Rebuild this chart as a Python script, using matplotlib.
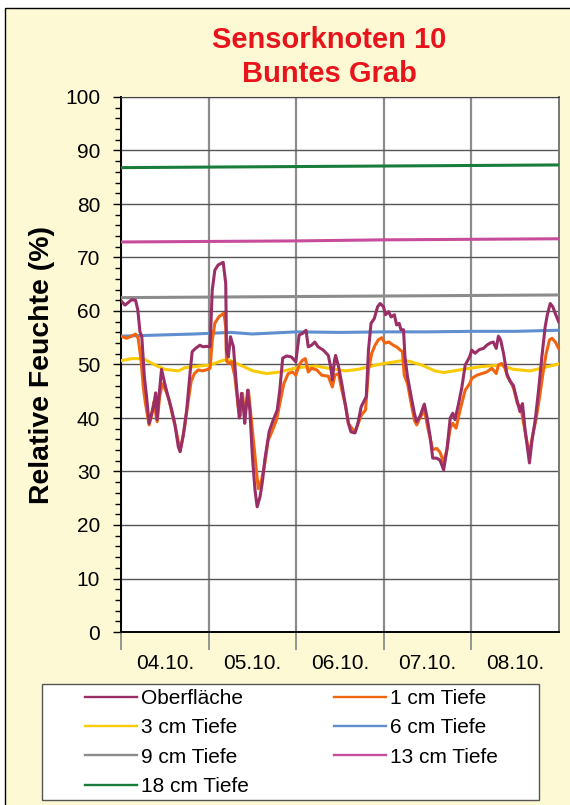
import matplotlib
matplotlib.use("Agg")
import matplotlib.pyplot as plt
import matplotlib.patches as mpatches
from matplotlib.ticker import FixedLocator, NullFormatter, FixedFormatter

plt.rcParams['font.family'] = ['Liberation Sans', 'DejaVu Sans']

# time axis in hours since 04.10. 00:00
day_labels = ["04.10.", "05.10.", "06.10.", "07.10.", "08.10."]

surface_h = [0, 1.1, 2, 2.9, 4, 4.6, 5.2, 5.7, 6.4, 7,
             7.7, 8.2, 8.9, 9.5, 9.9, 10.4, 11.1, 12, 12.9, 13.9,
             14.8, 15.7, 16.2, 17, 18, 18.9, 19.5, 20.4, 21.6, 22.5,
             23.4, 24.4, 25, 25.7, 26.6, 28, 28.7, 28.9, 29.4, 30,
             30.8, 31.5, 32.4, 33, 33.5, 33.9, 34.7, 35.3, 36, 36.7,
             37.3, 38.1, 38.8, 39.4, 40.6, 41.7, 42.8, 43.5, 44.3, 45.4,
             46.7, 47.9, 48.8, 49.7, 50.7, 51.3, 52.2, 53.1, 54, 55.4,
             56.8, 57.5, 57.9, 58.5, 58.8, 59.6, 60.5, 61.4, 62.3, 63,
             64.1, 64.9, 65.8, 66.7, 67.2, 67.8, 68.5, 69.4, 70.3, 71,
             71.9, 72.5, 73.3, 74, 74.9, 75.5, 76.2, 76.7, 77.4, 77.8,
             78.5, 79.5, 80.4, 81, 81.9, 83.1, 83.8, 84.7, 85.4, 86.5,
             87.4, 88.4, 89.3, 90.2, 90.9, 91.5, 92.5, 93.4, 94.3, 95.5,
             96.1, 97, 98.2, 99.3, 100.2, 101.1, 102, 102.8, 103.4, 104,
             104.8, 105.7, 106.6, 107.5, 108.6, 109.3, 110, 110.7, 111.4, 111.9,
             112.6, 113.5, 114.4, 115.3, 116.2, 116.8, 117.6, 118.3, 119, 119.9]
surface_v = [61.9, 61.1, 61.6, 62.1, 62.0, 60.2, 56.1, 55.2, 47.7, 44.0,
             39.0, 40.3, 42.1, 44.7, 39.7, 44.0, 49.1, 46.4, 44.0, 41.5,
             38.7, 34.6, 33.7, 36.5, 41.5, 48.3, 52.4, 53.0, 53.6, 53.3,
             53.4, 53.3, 63.9, 67.6, 68.6, 69.1, 65.1, 52.7, 51.4, 55.2,
             53.3, 47.1, 40.0, 44.6, 42.1, 39.0, 45.2, 41.5, 32.8, 26.6,
             23.4, 25.3, 28.4, 32.2, 37.5, 39.6, 41.5, 45.2, 51.2, 51.6,
             51.4, 50.5, 55.5, 55.8, 56.4, 53.3, 53.6, 54.2, 53.3, 52.7,
             51.7, 49.3, 47.1, 50.8, 51.7, 49.6, 46.4, 42.7, 39.0, 37.4,
             37.2, 39.0, 42.1, 43.3, 44.0, 52.7, 57.7, 58.6, 60.8, 61.4,
             60.8, 59.3, 59.9, 58.9, 59.3, 57.4, 57.7, 56.5, 56.5, 51.4,
             47.7, 44.0, 40.8, 39.3, 40.3, 42.6, 40.3, 36.5, 32.5, 32.5,
             32.1, 30.3, 34.1, 40.0, 40.9, 39.7, 42.7, 45.8, 49.9, 51.4,
             52.7, 52.1, 52.8, 53.0, 53.6, 54.0, 54.2, 53.0, 55.3, 54.6,
             52.1, 48.3, 46.8, 46.1, 43.0, 41.2, 42.7, 37.8, 34.1, 31.6,
             35.8, 39.7, 45.2, 51.4, 57.0, 59.3, 61.4, 60.8, 59.5, 58.0]

cm1_h = [0, 1.5, 2.9, 4, 4.7, 5.5, 6.1, 6.7, 7.7, 8.3,
         9, 9.9, 10.6, 11.3, 12.2, 13.1, 14, 14.9, 15.9, 16.4,
         17.3, 18.2, 19.2, 20.1, 21.2, 22.3, 23.4, 24.4, 25, 25.7,
         26.8, 28.2, 28.7, 28.9, 29.4, 30.3, 31.2, 32.1, 32.6, 33.3,
         33.9, 34.9, 35.8, 36.7, 37.6, 38.5, 39.4, 40.3, 41.5, 42.6,
         43.5, 44.6, 45.8, 47, 47.9, 48.8, 49.7, 50.5, 51.3, 52.2,
         53.6, 55, 56.8, 57.9, 58.6, 59.6, 60.5, 61.6, 62.3, 63,
         64.1, 65, 65.9, 67, 67.8, 68.7, 69.6, 70.5, 71.4, 72.3,
         73.4, 74.6, 75.5, 76.5, 77.1, 77.6, 78.5, 79.5, 80.4, 81,
         81.9, 83.1, 84.2, 85.4, 86.5, 87.4, 88.4, 89.3, 90.2, 90.9,
         91.8, 92.9, 94.3, 95.5, 96.1, 97.5, 98.9, 100.2, 101.6, 102.8,
         103.4, 104.3, 105.2, 105.9, 106.8, 107.7, 108.6, 109.5, 110.3, 111.2,
         111.9, 112.8, 113.7, 114.7, 115.6, 116.5, 117.4, 118.1, 119, 119.9]
cm1_v = [55.3, 54.9, 55.3, 55.7, 54.9, 50.8, 45.8, 42.7, 38.7, 40.3,
         43.0, 39.3, 44.0, 46.4, 45.2, 43.6, 40.8, 38.3, 34.9, 34.6,
         37.7, 42.1, 46.8, 48.3, 49.0, 48.8, 49.0, 49.3, 54.5, 57.7,
         58.9, 59.6, 57.0, 50.8, 50.2, 50.5, 47.7, 42.1, 40.3, 44.6,
         40.3, 45.2, 39.0, 32.8, 26.8, 28.4, 31.5, 35.8, 37.7, 39.6,
         42.7, 46.4, 48.3, 48.6, 48.0, 49.9, 50.8, 51.1, 48.6, 49.3,
         49.0, 48.0, 47.8, 45.8, 48.0, 48.3, 45.2, 42.1, 39.0, 38.3,
         37.4, 39.0, 40.6, 41.5, 49.0, 52.1, 53.6, 54.6, 55.0, 54.0,
         54.2, 53.6, 53.3, 52.7, 52.4, 48.0, 46.4, 42.7, 39.6, 38.7,
         40.0, 41.5, 37.7, 34.1, 34.3, 33.6, 31.7, 34.1, 38.1, 39.0,
         38.1, 41.5, 45.2, 46.4, 47.4, 48.0, 48.3, 48.6, 49.3, 48.3,
         49.9, 50.2, 49.3, 47.7, 46.8, 45.2, 42.7, 42.1, 39.0, 35.6,
         33.4, 36.8, 39.7, 44.0, 48.3, 52.1, 54.6, 54.9, 54.2, 53.0]

cm3_h = [0, 2.9, 6.1, 9.3, 12, 15.7, 17.5, 21.2, 24.4, 28,
         29.8, 32.6, 36.2, 39.9, 43.5, 48.1, 53.6, 56.8, 61.4, 65,
         70.5, 77.8, 82.4, 86, 88.4, 93.8, 98.6, 103.9, 107.5, 112.1,
         115.7, 119.9]
cm3_v = [50.7, 51.1, 51.1, 49.9, 49.1, 48.8, 49.4, 49.7, 49.9, 50.8,
         50.8, 49.9, 48.8, 48.3, 48.6, 49.4, 49.7, 49.3, 48.8, 49.1,
         50.0, 50.8, 49.9, 48.8, 48.5, 49.1, 49.6, 49.9, 49.1, 48.8,
         49.4, 50.1]

cm6_h = [0, 10, 20, 30, 36, 48, 60, 72, 84, 96, 108, 119.9]
cm6_v = [55.3, 55.5, 55.7, 56.0, 55.7, 56.1, 56.0, 56.1, 56.1, 56.2, 56.2, 56.4]

deep_h = [0, 24, 48, 72, 96, 119.9]
cm9_v = [62.5, 62.6, 62.7, 62.8, 62.9, 63.0]
cm13_v = [72.9, 73.0, 73.1, 73.3, 73.4, 73.5]
cm18_v = [86.8, 86.9, 87.0, 87.1, 87.2, 87.3]

fig = plt.figure(figsize=(5.7, 8.05), dpi=100, facecolor='white')

# cream chart area with black frame
bg = mpatches.Rectangle((5 / 570, -0.01), 1.0, 1 - 8 / 805 + 0.01, transform=fig.transFigure,
                        facecolor='#FDF9D4', edgecolor='black', lw=1.0, zorder=-10)
fig.patches.append(bg)

ax = fig.add_axes([121 / 570, 173 / 805, 438 / 570, 535 / 805])
ax.set_facecolor('white')

series = [
    ("Oberfläche", surface_h, surface_v, '#992F66'),
    ("1 cm Tiefe", cm1_h, cm1_v, '#F26510'),
    ("3 cm Tiefe", cm3_h, cm3_v, '#F9CB05'),
    ("6 cm Tiefe", cm6_h, cm6_v, '#5F8FCF'),
    ("9 cm Tiefe", deep_h, cm9_v, '#8C8C8C'),
    ("13 cm Tiefe", deep_h, cm13_v, '#C84C9C'),
    ("18 cm Tiefe", deep_h, cm18_v, '#187D3C'),
]
handles = {}
for name, h, v, col in reversed(series):
    days = [t / 24 for t in h]
    ln, = ax.plot(days, v, color=col, lw=2.2, label=name, solid_joinstyle='round', zorder=3)
    handles[name] = ln

ax.set_xlim(0, 5)
ax.set_ylim(0, 100)

# y axis
ax.yaxis.set_major_locator(FixedLocator(range(0, 101, 10)))
ax.yaxis.set_minor_locator(FixedLocator(range(0, 101, 2)))
ax.tick_params(axis='y', which='major', length=6, width=1, direction='out', labelsize=15, pad=9, colors='black')
ax.tick_params(axis='y', which='minor', length=4, width=1, direction='out')
ax.yaxis.grid(True, which='major', color='#555555', lw=1.0)

# x axis: gridlines / ticks at day boundaries, labels in the middle of each day
ax.xaxis.set_major_locator(FixedLocator([0, 1, 2, 3, 4]))
ax.xaxis.set_major_formatter(NullFormatter())
ax.xaxis.set_minor_locator(FixedLocator([0.5, 1.5, 2.5, 3.5, 4.5]))
ax.xaxis.set_minor_formatter(FixedFormatter(day_labels))
ax.tick_params(axis='x', which='major', length=13, width=1.3, color='#8c8c8c', direction='out')
ax.tick_params(axis='x', which='minor', length=0, labelsize=15, pad=15.5)
ax.xaxis.grid(True, which='major', color='#8c8c8c', lw=1.6)
ax.set_axisbelow(True)

for s in ['left', 'bottom']:
    ax.spines[s].set_color('black')
    ax.spines[s].set_linewidth(1.4)
ax.spines['top'].set_color('#444444')
ax.spines['right'].set_color('#777777')
ax.spines['right'].set_linewidth(1.4)

ax.set_ylabel("Relative Feuchte (%)", fontsize=20.4, fontweight='bold', labelpad=7)

fig.text(329 / 570, 1 - 57 / 805, "Sensorknoten 10\nBuntes Grab", ha='center', va='center',
         fontsize=21, fontweight='bold', color='#E8141C', linespacing=1.25)

# legend frame drawn separately so the entries can sit inset like the original
frame = mpatches.Rectangle((42 / 570, 5 / 805), 497 / 570, 116 / 805, transform=fig.transFigure,
                           facecolor='white', edgecolor='#555555', lw=1.0, zorder=1)
fig.patches.append(frame)

# row-major order like the original
order = ["Oberfläche", "3 cm Tiefe", "9 cm Tiefe", "18 cm Tiefe",
         "1 cm Tiefe", "6 cm Tiefe", "13 cm Tiefe"]
leg = fig.legend([handles[n] for n in order], order, ncol=2,
                 loc='upper left', bbox_to_anchor=(79 / 570, 1 - 683 / 805),
                 fontsize=15, handlelength=2.5, handletextpad=0.2, columnspacing=4.05,
                 labelspacing=0.49, borderpad=0.3, borderaxespad=0, frameon=False)
leg.set_zorder(2)
for lh in leg.get_lines():
    lh.set_linewidth(1.7)

fig.savefig("out.png", dpi=100, facecolor=fig.get_facecolor())
